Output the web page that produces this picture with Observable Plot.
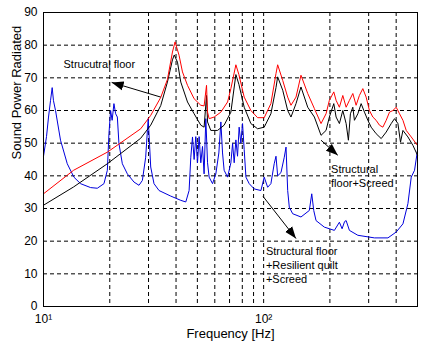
<!DOCTYPE html>
<html><head><meta charset="utf-8">
<script src="https://cdn.jsdelivr.net/npm/d3@7"></script>
<script src="https://cdn.jsdelivr.net/npm/@observablehq/plot@0.6"></script>
<style>body{margin:0;background:#fff}svg{display:block}</style>
</head><body><div id="chart"></div>
<script>
// Structural floor (red)
const structFreq = [10, 13.7, 19.56, 27.64, 30.69, 34.08, 36.56, 38.53, 39.59, 41.29, 42.79, 45.10, 48.33, 51.83, 53.65, 55.03, 55.61, 56.55, 59.6, 63.93, 68.58, 71.0, 74.8, 77.2, 81.6, 87.5, 93.9, 100.6, 107.9, 113.8, 115.8, 122.1, 128.6, 133.1, 140.3, 147.8, 158.6, 170.0, 182.3, 192.1, 198.9, 208.3, 213.4, 220.9, 228.9, 237.0, 245.3, 254.2, 263.1, 272.3, 282.2, 292.2, 302.4, 313.4, 324.4, 335.9, 348.1, 360.4, 373.1, 386.6, 400.2, 414.3, 429.4, 444.4, 468.3, 500];
const structDb = [34.5, 41.7, 47.3, 54.4, 58.5, 64, 69.5, 77.9, 81, 76.9, 71.8, 67.7, 63.6, 61.6, 61.4, 67.7, 59.5, 57.5, 58, 59.5, 62.6, 66.7, 74, 71, 64.1, 60, 57.8, 57.8, 62.1, 71.3, 74, 69.2, 64.1, 61.6, 64.1, 70.8, 65.2, 60.6, 56, 59, 63.1, 65.7, 63.1, 61, 64.6, 61, 63.1, 65.2, 61.6, 64.6, 66.7, 64.1, 60, 58, 57, 55.5, 54.9, 57, 59.5, 60, 61, 59, 57, 53.9, 51.9, 49.3];
// Structural floor + Screed (black)
const screedFreq = [10, 13.7, 19.5, 27.64, 30.69, 34.08, 36.56, 38.53, 39.26, 40.61, 42.04, 45.10, 48.33, 51.83, 53.65, 55.03, 55.61, 57.55, 61.74, 66.16, 71.0, 74.8, 77.2, 81.6, 87.5, 93.9, 100.6, 107.9, 113.8, 115.8, 122.1, 128.6, 133.1, 140.3, 147.8, 158.6, 170.0, 182.3, 192.1, 198.9, 208.3, 213.4, 220.9, 228.9, 237.0, 242.7, 247.9, 254.2, 258.5, 267.9, 277.3, 287.1, 297.5, 307.9, 324.4, 342.0, 360.4, 379.8, 393.2, 407.4, 418.6, 429.4, 452.4, 476.8, 500];
const screedDb = [31, 36.6, 43.7, 51.5, 55.5, 61.5, 68.7, 75.5, 77, 74.8, 68.7, 62.6, 59, 55.5, 54.9, 64.6, 56.5, 53.9, 53.9, 55.5, 59.5, 71, 68, 61, 56, 54.4, 54.9, 59, 67, 70.3, 66.2, 60, 58, 62.1, 67.2, 61, 58, 52.4, 53.9, 58, 62.1, 58, 56, 60, 56, 50.9, 59, 61, 57, 59, 62.1, 59.5, 57, 54.9, 52.9, 51.4, 53.4, 56, 57.5, 56, 50.3, 53.9, 51.9, 49.3, 46.3];
// Structural floor + Resilient quilt + Screed (blue)
const quiltFreq = [10, 10.32, 10.54, 10.76, 10.95, 11.10, 11.34, 11.95, 12.82, 13.74, 14.74, 16.37, 17.56, 18.82, 19.50, 19.83, 20.18, 20.50, 20.89, 21.27, 21.65, 22.01, 22.81, 24.04, 25.76, 27.15, 28.13, 29.12, 29.65, 29.9, 30.69, 31.77, 33.49, 37.84, 42.04, 44.3, 45.86, 46.68, 47.52, 48.33, 49.18, 50.07, 50.92, 51.83, 52.76, 53.65, 54.62, 55.61, 56.55, 58.6, 60.66, 62.6, 63.93, 65.06, 66.16, 68.58, 71.0, 72.27, 73.5, 74.8, 76.1, 77.4, 78.8, 80.2, 81.6, 83.1, 86.0, 90.6, 97.2, 100.6, 104.3, 107.9, 111.7, 113.8, 115.8, 119.9, 124.1, 126.4, 128.6, 130.8, 135.5, 147.8, 161.3, 165.4, 168.9, 173.0, 188.7, 209.6, 220.9, 227.2, 233.2, 237.0, 245.3, 267.9, 318.8, 366.9, 400.2, 429.4, 452.4, 468.3, 484.8, 500];
const quiltDb = [46, 52, 58, 63, 67, 63, 60, 50.9, 43.7, 39.6, 37.6, 36.4, 36.2, 37.6, 41.7, 52.9, 60, 57, 62.1, 59, 58, 49.9, 43.7, 40.6, 38.1, 37.1, 38.6, 45.7, 53.9, 57.5, 42.7, 37.6, 35.5, 33.8, 32.5, 32, 35.5, 45.7, 51.9, 45, 52, 44, 52, 44, 49, 40.6, 57.5, 44, 39.6, 37.6, 40.6, 47, 56.5, 47, 41.7, 39.6, 44, 49.9, 44, 51, 46, 54.9, 50, 56, 48, 39.6, 37.6, 36, 35.5, 39.6, 36.5, 37.6, 43.7, 46, 40, 41, 45.7, 48.8, 35.5, 30.4, 28.4, 27.4, 29.4, 34.5, 29.4, 26.3, 24.3, 23.3, 25.8, 23.8, 26, 26.3, 23.3, 21.8, 21, 21, 22.8, 25.3, 31.5, 39.6, 41.7, 47.8];

// Annotations
const annoText = ["Strucutral floor", "Structural\nfloor+Screed", "Structural floor\n+Resilient quilt\n+Screed"];
const annoFreq = [12.33, 202.4, 102.4];
const annoDb = [74.5, 40.2, 12.9];
const arrowFromFreq = [34.1, 182.3, 99.4];
const arrowFromDb = [64.1, 50.9, 33.7];
const arrowToFreq = [20.4, 217.2, 140.3];
const arrowToDb = [68.6, 46.3, 20.8];

// Axes
const xTickValues = [10, 100];
const xTickLabels = ["10\u00B9", "10\u00B2"];
const xGrid = [20, 30, 40, 50, 60, 70, 80, 90, 100, 200, 300, 400];
const yTicks = [0, 10, 20, 30, 40, 50, 60, 70, 80, 90];
const yGrid = [10, 20, 30, 40, 50, 60, 70, 80];

const rows = (fs, ds) => fs.map((f, i) => ({f, db: ds[i]}));
const struct = rows(structFreq, structDb);
const screed = rows(screedFreq, screedDb);
const quilt = rows(quiltFreq, quiltDb);
const annos = annoText.map((t, i) => ({t, f: annoFreq[i], db: annoDb[i]}));
const arrows = arrowFromFreq.map((f, i) => ({x1: f, y1: arrowFromDb[i], x2: arrowToFreq[i], y2: arrowToDb[i]}));

function arrowHead(color, context) {
  const m = d3.create("svg:marker")
    .attr("viewBox", "-12 -5 12 10")
    .attr("markerWidth", 12).attr("markerHeight", 10)
    .attr("markerUnits", "userSpaceOnUse")
    .attr("orient", "auto")
    .attr("fill", "black").attr("stroke", "none");
  m.append("path").attr("d", "M-12,-4.5L0,0L-12,4.5Z");
  return m.node();
}

const fontFamily = "'Liberation Sans', Arial, sans-serif";
const dash = {stroke: "black", strokeOpacity: 1, strokeDasharray: "4,3", strokeWidth: 1};

const plot = Plot.plot({
  width: 441, height: 353,
  marginLeft: 43, marginRight: 24, marginTop: 12, marginBottom: 47,
  style: {fontFamily, fontSize: "12px", background: "white", color: "black"},
  x: {type: "log", domain: [10, 500]},
  y: {domain: [0, 90]},
  marks: [
    Plot.gridX(xGrid, dash),
    Plot.gridY(yGrid, dash),
    Plot.line(quilt, {x: "f", y: "db", stroke: "#0000dd", strokeWidth: 1}),
    Plot.line(screed, {x: "f", y: "db", stroke: "black", strokeWidth: 1}),
    Plot.line(struct, {x: "f", y: "db", stroke: "#ff0000", strokeWidth: 1}),
    Plot.link(arrows, {x1: "x1", y1: "y1", x2: "x2", y2: "y2", stroke: "black", strokeWidth: 1, markerEnd: arrowHead}),
    Plot.text(annos, {x: "f", y: "db", text: "t", textAnchor: "start", lineAnchor: "middle", fontSize: 11, lineHeight: 1.3}),
    Plot.frame({stroke: "black"}),
    Plot.axisX(xTickValues, {tickFormat: d => xTickLabels[xTickValues.indexOf(d)], tickSize: 0, tickPadding: 8, fontSize: 12, label: null}),
    Plot.axisY(yTicks, {tickSize: 0, tickPadding: 6, fontSize: 12, label: null}),
    Plot.text(["Frequency [Hz]"], {frameAnchor: "bottom", dy: 31, text: d => d, fontSize: 13}),
    Plot.text(["Sound Power Radiated"], {frameAnchor: "left", dx: -27, rotate: -90, text: d => d, fontSize: 13})
  ]
});
document.getElementById("chart").appendChild(plot);
</script>
</body></html>
